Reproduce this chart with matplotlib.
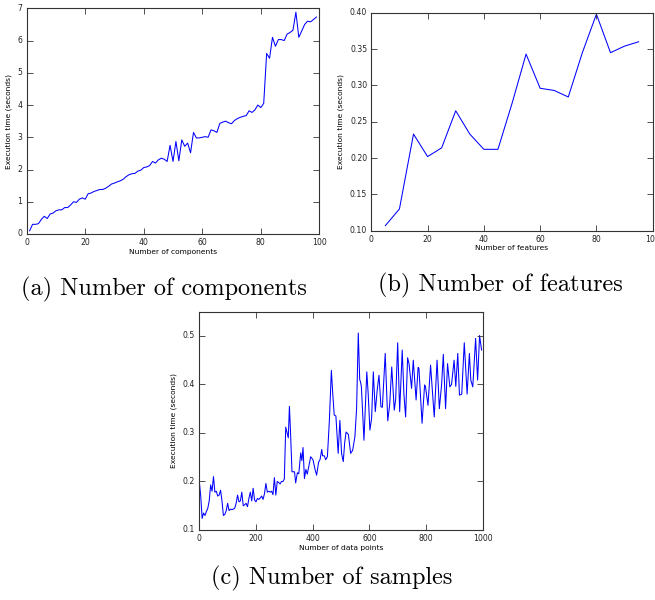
import matplotlib
matplotlib.use("Agg")
import matplotlib.pyplot as plt

plt.style.use("classic")

# (a) execution time vs number of components
comp_n = list(range(1, 100))
comp_t = [0.10, 0.30, 0.30, 0.32, 0.45, 0.55, 0.48, 0.62, 0.65, 0.72,
          0.75, 0.75, 0.82, 0.82, 0.90, 1.00, 0.98, 1.08, 1.12, 1.08,
          1.25, 1.27, 1.32, 1.35, 1.38, 1.38, 1.42, 1.48, 1.55, 1.58,
          1.62, 1.65, 1.70, 1.78, 1.84, 1.87, 1.88, 1.95, 1.98, 2.06,
          2.08, 2.12, 2.25, 2.20, 2.30, 2.35, 2.32, 2.25, 2.75, 2.25,
          2.87, 2.27, 2.92, 2.72, 2.82, 2.52, 3.15, 2.98, 2.98, 3.00,
          3.02, 3.00, 3.23, 3.20, 3.15, 3.43, 3.47, 3.50, 3.45, 3.42,
          3.52, 3.58, 3.62, 3.65, 3.67, 3.82, 3.77, 3.85, 4.00, 3.92,
          4.05, 5.60, 5.45, 6.10, 5.82, 6.03, 6.03, 6.00, 6.20, 6.25,
          6.32, 6.88, 6.10, 6.30, 6.50, 6.60, 6.58, 6.65, 6.73]

# (b) execution time vs number of features
feat_n = [5, 10, 15, 20, 25, 30, 35, 40, 45, 50,
          55, 60, 65, 70, 75, 80, 85, 90, 95]
feat_t = [0.107, 0.130, 0.233, 0.202, 0.214, 0.265, 0.233, 0.212, 0.212, 0.275,
          0.343, 0.296, 0.293, 0.284, 0.345, 0.398, 0.345, 0.354, 0.360]

# (c) execution time vs number of data points
samp_n = [0, 5, 10, 15, 20, 25, 30, 35, 40, 45, 50, 55, 60, 65, 70, 75, 80, 85,
          90, 95, 100, 105, 110, 115, 120, 125, 130, 135, 140, 145, 150, 155,
          160, 165, 170, 175, 180, 185, 190, 195, 200, 205, 210, 215, 220, 225,
          230, 235, 240, 245, 250, 255, 260, 265, 270, 275, 280, 285, 290, 295,
          300, 305, 310, 314, 318, 322, 327, 332, 336, 340, 346, 351, 358, 362,
          366, 371, 376, 381, 387, 393, 401, 408, 414, 421, 426, 432, 435, 441,
          446, 452, 459, 466, 471, 476, 482, 490, 496, 502, 508, 513, 518, 526,
          534, 541, 549, 555, 561, 566, 569, 572, 581, 591, 596, 602, 608, 614,
          621, 628, 634, 641, 646, 656, 665, 672, 679, 688, 693, 700, 707, 716,
          722, 728, 735, 740, 749, 755, 765, 772, 775, 786, 795, 798, 807, 816,
          829, 839, 847, 855, 861, 869, 876, 884, 890, 899, 905, 912, 918, 926,
          935, 945, 953, 958, 965, 975, 982, 989, 996]
samp_t = [0.200, 0.170, 0.124, 0.135, 0.130, 0.138, 0.145, 0.160, 0.193, 0.180,
          0.210, 0.178, 0.180, 0.170, 0.172, 0.182, 0.160, 0.130, 0.132, 0.140,
          0.155, 0.140, 0.143, 0.142, 0.143, 0.145, 0.155, 0.172, 0.158, 0.160,
          0.178, 0.150, 0.152, 0.155, 0.148, 0.165, 0.178, 0.160, 0.186, 0.162,
          0.158, 0.165, 0.163, 0.166, 0.170, 0.163, 0.175, 0.196, 0.178, 0.180,
          0.178, 0.180, 0.173, 0.208, 0.172, 0.200, 0.198, 0.195, 0.200, 0.200,
          0.205, 0.312, 0.300, 0.290, 0.355, 0.300, 0.220, 0.220, 0.220, 0.197,
          0.218, 0.216, 0.259, 0.243, 0.270, 0.206, 0.225, 0.215, 0.233, 0.251,
          0.245, 0.226, 0.213, 0.240, 0.245, 0.266, 0.253, 0.253, 0.245, 0.251,
          0.326, 0.429, 0.380, 0.337, 0.335, 0.258, 0.326, 0.258, 0.241, 0.280,
          0.302, 0.297, 0.258, 0.264, 0.292, 0.350, 0.506, 0.410, 0.405, 0.395,
          0.285, 0.426, 0.380, 0.306, 0.330, 0.426, 0.344, 0.390, 0.419, 0.354,
          0.353, 0.464, 0.325, 0.360, 0.436, 0.347, 0.370, 0.486, 0.344, 0.471,
          0.380, 0.333, 0.455, 0.443, 0.392, 0.450, 0.368, 0.435, 0.433, 0.320,
          0.399, 0.396, 0.357, 0.440, 0.333, 0.450, 0.350, 0.400, 0.462, 0.350,
          0.443, 0.395, 0.400, 0.450, 0.396, 0.464, 0.378, 0.380, 0.486, 0.380,
          0.464, 0.409, 0.395, 0.495, 0.409, 0.501, 0.471]

W, H = 655, 600
fig = plt.figure(figsize=(W / 100, H / 100), dpi=100, facecolor="white")


def frame(l, t, r, b):
    return [l / W, 1 - b / H, (r - l) / W, (b - t) / H]


def style(ax):
    ax.set_facecolor("white")
    for s in ax.spines.values():
        s.set_color("#333333")
        s.set_linewidth(0.8)
    ax.tick_params(which="major", direction="in", length=4, width=0.6,
                   labelsize=5.6, colors="#333333", labelcolor="#222222",
                   top=True, right=True, pad=3)


LINE = dict(color="#0000ff", lw=0.75)

ax_a = fig.add_axes(frame(26.7, 8.3, 319.3, 234))
ax_a.plot(comp_n, comp_t, **LINE)
ax_a.set_xlim(0, 100)
ax_a.set_ylim(0, 7)
ax_a.set_xlabel("Number of components", fontsize=5.4, labelpad=1)
ax_a.set_ylabel("Execution time (seconds)", fontsize=5.4, labelpad=4)
style(ax_a)

ax_b = fig.add_axes(frame(371.3, 12.7, 652.7, 230.7))
ax_b.plot(feat_n, feat_t, **LINE)
ax_b.set_xlim(0, 100)
ax_b.set_ylim(0.10, 0.40)
ax_b.set_yticks([0.10, 0.15, 0.20, 0.25, 0.30, 0.35, 0.40])
ax_b.set_xlabel("Number of features", fontsize=5.4, labelpad=1)
ax_b.set_ylabel("Execution time (seconds)", fontsize=5.4, labelpad=4)
style(ax_b)

ax_c = fig.add_axes(frame(199.3, 311.7, 482.7, 530))
ax_c.plot(samp_n, samp_t, **LINE)
ax_c.set_xlim(0, 1000)
ax_c.set_ylim(0.1, 0.55)
ax_c.set_yticks([0.1, 0.2, 0.3, 0.4, 0.5])
ax_c.set_xlabel("Number of data points", fontsize=5.4, labelpad=1)
ax_c.set_ylabel("Execution time (seconds)", fontsize=5.4, labelpad=4)
style(ax_c)

cap = dict(fontsize=17.5, family="cmr10", ha="center", va="center")
fig.text(164 / W, 1 - 289 / H, "(a) Number of components", **cap)
fig.text(500 / W, 1 - 285 / H, "(b) Number of features", **cap)
fig.text(332 / W, 1 - 578 / H, "(c) Number of samples", **cap)

fig.savefig("out.png", dpi=100, facecolor="white")
